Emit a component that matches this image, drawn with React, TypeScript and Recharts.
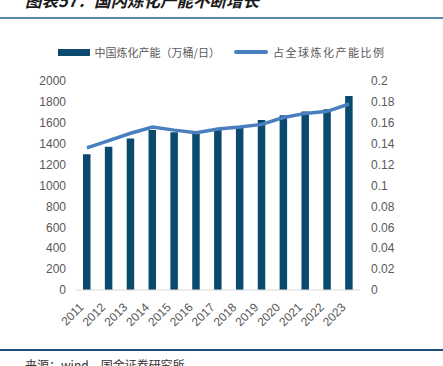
import React from "react";
import { ComposedChart, Bar, Line, XAxis, YAxis } from "recharts";

const years = ["2011","2012","2013","2014","2015","2016","2017","2018","2019","2020","2021","2022","2023"];
const capacity = [1300, 1370, 1450, 1530, 1510, 1500, 1530, 1560, 1627, 1672, 1707, 1729, 1856];
const share = [0.136, 0.143, 0.150, 0.156, 0.153, 0.1505, 0.154, 0.156, 0.1585, 0.165, 0.169, 0.171, 0.178];
const leftTicks = [0, 200, 400, 600, 800, 1000, 1200, 1400, 1600, 1800, 2000];
const rightTicks = [0, 0.02, 0.04, 0.06, 0.08, 0.1, 0.12, 0.14, 0.16, 0.18, 0.2];
const edgeTicks = years.map((_, i) => i).concat([years.length]);
const barName = "中国炼化产能（万桶/日）";
const lineName = "占全球炼化产能比例";

const data = years.map((y, i) => ({ year: y, cap: capacity[i], share: share[i] }));

const BAR_COLOR = "#0b4a6f";
const LINE_COLOR = "#4a7fbf";
const TEXT = "#595959";
const FONT = "'Liberation Sans', Arial, sans-serif";
const CJK = "'Noto Sans CJK SC', sans-serif";

const XTick = (props: any) => {
  const { x, y, payload } = props;
  return (
    <text
      x={x - 2.5}
      y={y + 10}
      transform={`rotate(-45, ${x - 2.5}, ${y + 10})`}
      textAnchor="end"
      fill={TEXT}
      fontSize={12}
      fontFamily={FONT}
    >
      {payload.value}
    </text>
  );
};

export default function App() {
  return (
    <div style={{ position: "absolute", left: 0, top: 0, width: 443, height: 366, overflow: "hidden", background: "#fff" }}>
      <div style={{ position: "absolute", left: 25, top: -10, fontFamily: CJK, fontSize: 16.5, fontWeight: "bold", fontStyle: "italic", color: "#1a1a1a", whiteSpace: "nowrap", lineHeight: "20px" }}>
        图表57：国内炼化产能不断增长
      </div>
      <div style={{ position: "absolute", left: 0, top: 17, width: 443, height: 2, background: "#5a88a8" }} />
      <div style={{ position: "absolute", left: 0, top: 44, width: 443, display: "flex", alignItems: "center", justifyContent: "center", fontFamily: CJK, fontSize: 11, color: TEXT, lineHeight: "16px" }}>
        <span style={{ display: "inline-block", width: 32, height: 7, background: BAR_COLOR, marginRight: 5 }} />
        <span>{barName}</span>
        <span style={{ display: "inline-block", width: 34, height: 4, borderRadius: 2, background: LINE_COLOR, marginLeft: 14, marginRight: 5 }} />
        <span style={{ letterSpacing: 1.5 }}>{lineName}</span>
      </div>
      <ComposedChart
        width={443}
        height={366}
        data={data}
        margin={{ top: 81, right: 0, bottom: 36, left: 0 }}
        barCategoryGap={0}
      >
        <XAxis
          xAxisId="edges"
          type="number"
          domain={[0, years.length]}
          ticks={edgeTicks}
          allowDataOverflow
          height={0}
          mirror
          tick={false}
          tickSize={4}
          tickLine={{ stroke: "#d9d9d9" }}
          axisLine={false}
          interval={0}
        />
        <XAxis
          dataKey="year"
          height={40}
          tick={<XTick />}
          tickLine={false}
          axisLine={{ stroke: "#d9d9d9" }}
          interval={0}
        />
        <YAxis
          yAxisId="left"
          width={76}
          domain={[0, 2000]}
          ticks={leftTicks}
          tickLine={false}
          axisLine={false}
          tickMargin={4}
          tick={{ fill: TEXT, fontSize: 12, fontFamily: FONT }}
          interval={0}
        />
        <YAxis
          yAxisId="right"
          orientation="right"
          width={83}
          domain={[0, 0.2]}
          ticks={rightTicks}
          tickLine={false}
          axisLine={false}
          tickMargin={5}
          tick={{ fill: TEXT, fontSize: 12, fontFamily: FONT, textAnchor: "start" }}
          interval={0}
        />
        <Bar yAxisId="left" dataKey="cap" name={barName} fill={BAR_COLOR} barSize={7.5} isAnimationActive={false} />
        <Line yAxisId="right" dataKey="share" name={lineName} stroke={LINE_COLOR} strokeWidth={3.5} dot={false} isAnimationActive={false} />
      </ComposedChart>
      <div style={{ position: "absolute", left: 0, top: 349, width: 443, height: 2, background: "#1f4f7d" }} />
      <div style={{ position: "absolute", left: 25, top: 357, fontFamily: CJK, fontSize: 12, color: "#333", whiteSpace: "nowrap", lineHeight: "16px" }}>
        来源：wind，国金证券研究所
      </div>
    </div>
  );
}
